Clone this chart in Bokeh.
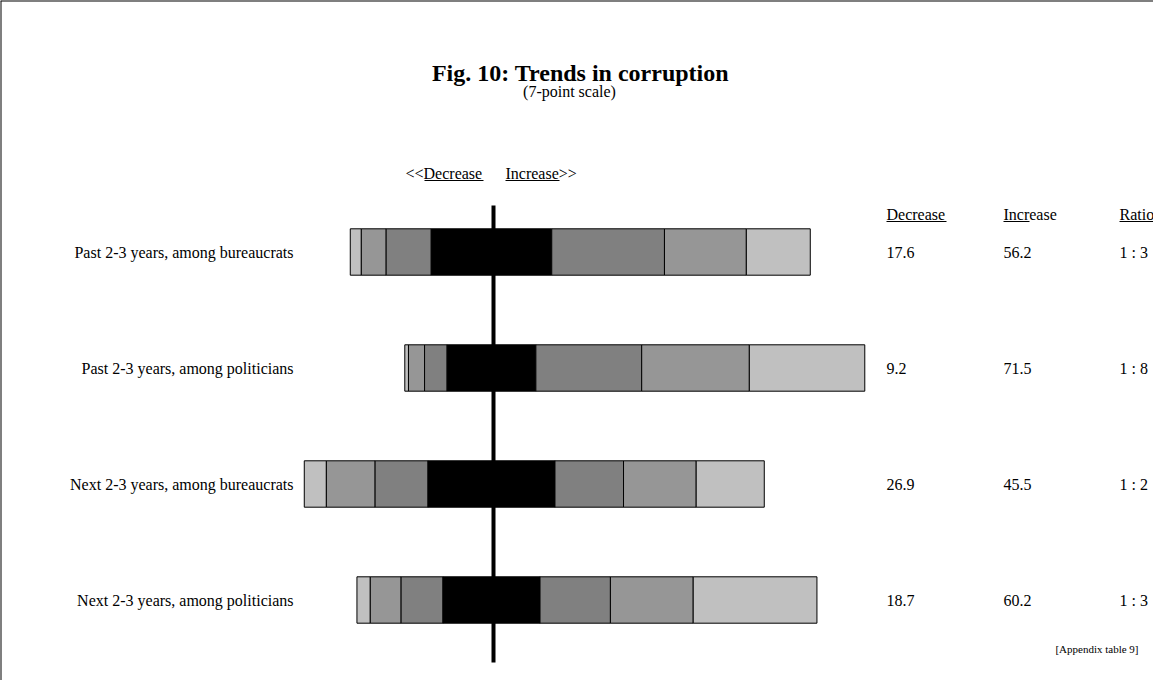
import numpy as np
from bokeh.plotting import figure
from bokeh.models import Range1d, Span
from bokeh.core.properties import value
from bokeh.embed import file_html
from bokeh.resources import INLINE

# ---------------- data ----------------
categories = [
    "Past 2-3 years, among bureaucrats",
    "Past 2-3 years, among politicians",
    "Next 2-3 years, among bureaucrats",
    "Next 2-3 years, among politicians",
]
# share of answers on the 7-point scale (1 = strong decrease ... 7 = strong increase)
p1 = [2.4, 0.8, 4.8, 2.9]
p2 = [5.4, 3.5, 10.6, 6.7]
p3 = [9.8, 4.9, 11.5, 9.1]
p4 = [26.2, 19.3, 27.6, 21.1]
p5 = [24.5, 23.0, 14.9, 15.3]
p6 = [17.8, 23.4, 15.8, 18.0]
p7 = [13.9, 25.1, 14.8, 26.9]
decrease = [17.6, 9.2, 26.9, 18.7]
increase = [56.2, 71.5, 45.5, 60.2]
ratio = ["1 : 3", "1 : 8", "1 : 2", "1 : 3"]

series = [p1, p2, p3, p4, p5, p6, p7]
colors = ["#C0C0C0", "#969696", "#808080", "#000000", "#808080", "#969696", "#C0C0C0"]

# ---------------- layout (pixels of the canvas) ----------------
W, H = 1153, 680
PX_PER_PCT = 4.6
CENTER_PX = 491
ROW_PX = 116
ROW0_PX = 251.5
BAR_H = 0.40
FONT = value("Liberation Serif")

x_start = -CENTER_PX / PX_PER_PCT
x_end = (W - CENTER_PX) / PX_PER_PCT
y_top = -ROW0_PX / ROW_PX
y_bottom = (H - ROW0_PX) / ROW_PX


def xd(px):
    return x_start + px / PX_PER_PCT


def yd(py):
    return y_top + py / ROW_PX


p = figure(width=W, height=H, x_range=Range1d(x_start, x_end),
           y_range=Range1d(y_bottom, y_top), x_axis_type=None, y_axis_type=None,
           output_backend="svg", toolbar_location=None, min_border=0)
p.grid.visible = False
p.outline_line_color = None
p.background_fill_color = "white"
p.border_fill_color = "white"

rows = np.arange(len(categories))

# vertical reference line at the midpoint
p.segment(x0=[xd(493)], y0=[yd(205)], x1=[xd(493)], y1=[yd(662)],
          line_color="black", line_width=4)

# diverging stacked bars: neutral category centred on zero
vals = np.array(series)
start = -(vals[0] + vals[1] + vals[2] + vals[3] / 2.0)
left = start.copy()
for s, c in zip(vals, colors):
    right = left + s
    p.hbar(y=rows, left=left, right=right, height=BAR_H, fill_color=c,
           line_color="black", line_width=1)
    left = right

# row labels
p.text(x=[xd(293)] * len(rows), y=rows, text=categories, text_align="right",
       text_baseline="middle", text_font=FONT, text_font_size="16px", text_color="black")

# numeric columns
col_dec, col_inc, col_rat = xd(886), xd(1003), xd(1119)
for xc, txt in ((col_dec, [f"{v:.1f}" for v in decrease]),
                (col_inc, [f"{v:.1f}" for v in increase]),
                (col_rat, ratio)):
    p.text(x=[xc] * len(rows), y=rows, text=txt, text_baseline="middle",
           text_font=FONT, text_font_size="16px")

# column headers with underlines
p.text(x=[col_dec, col_inc, col_rat], y=[yd(213.5)] * 3, text=["Decrease", "Increase", "Ratio"],
       text_baseline="middle", text_font=FONT, text_font_size="16px")
uy = yd(221)
p.segment(x0=[col_dec, col_inc, col_rat], y0=[uy] * 3,
          x1=[xd(946), xd(1029), xd(1153)], y1=[uy] * 3, line_color="black", line_width=1)

# direction hint
ay = yd(172.5)
p.text(x=[xd(405), xd(505)], y=[ay, ay], text=["<<Decrease", "Increase>>"],
       text_baseline="middle", text_font=FONT, text_font_size="16px")
auy = yd(180)
p.segment(x0=[xd(424), xd(505)], y0=[auy, auy], x1=[xd(483), xd(559)], y1=[auy, auy],
          line_color="black", line_width=1)

# title and subtitle
p.text(x=[xd(580)], y=[yd(72)], text=["Fig. 10: Trends in corruption"], text_align="center",
       text_baseline="middle", text_font=FONT, text_font_size="24px",
       text_font_style="bold")
p.text(x=[xd(569)], y=[yd(90.5)], text=["(7-point scale)"], text_align="center",
       text_baseline="middle", text_font=FONT, text_font_size="16px")

# source note
p.text(x=[xd(1138)], y=[yd(648)], text=["[Appendix table 9]"], text_align="right",
       text_baseline="middle", text_font=FONT, text_font_size="11px")

# frame border (top and left edges)
p.add_layout(Span(location=x_start, dimension="height", line_color="black", line_width=2))
p.add_layout(Span(location=y_top, dimension="width", line_color="black", line_width=2))

open("out.html", "w").write(file_html(p, INLINE))
